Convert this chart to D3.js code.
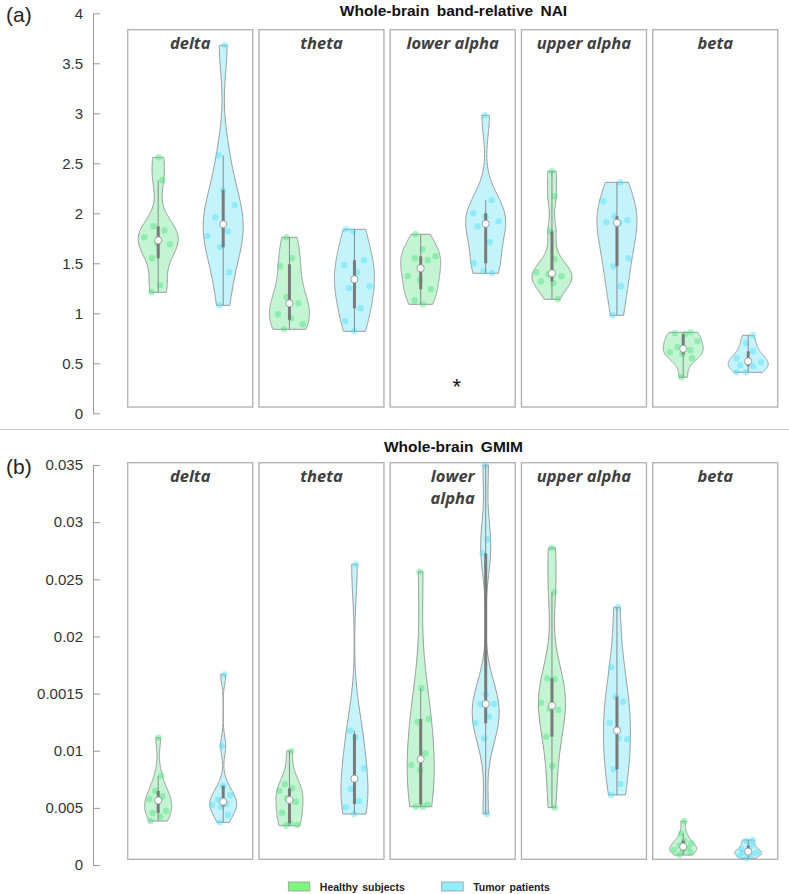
<!DOCTYPE html>
<html>
<head>
<meta charset="utf-8">
<script src="https://cdn.jsdelivr.net/npm/d3@7"></script>
<style>
  body { margin: 0; background: #fff; }
  svg { display: block; }
</style>
</head>
<body>
<div id="chart"></div>
<script>
const bands = ["delta", "theta", "lower alpha", "upper alpha", "beta"];
const groups = ["Healthy subjects", "Tumor patients"];

// Whole-brain band-relative NAI
const naiHealthy = [
  [1.21, 1.28, 1.55, 1.69, 1.70, 1.76, 1.83, 1.87, 2.33, 2.56],
  [0.84, 0.89, 0.95, 0.99, 1.10, 1.16, 1.47, 1.55, 1.76],
  [1.09, 1.13, 1.24, 1.33, 1.37, 1.53, 1.55, 1.57, 1.64, 1.79],
  [1.14, 1.30, 1.32, 1.37, 1.39, 1.41, 1.54, 1.82, 2.17, 2.42],
  [0.36, 0.55, 0.59, 0.61, 0.63, 0.66, 0.72, 0.79, 0.80, 0.81]
];
const naiTumor = [
  [1.08, 1.41, 1.66, 1.77, 1.82, 1.96, 2.08, 2.23, 2.58, 3.68],
  [0.82, 0.92, 1.05, 1.25, 1.27, 1.41, 1.48, 1.53, 1.82, 1.84],
  [1.40, 1.42, 1.50, 1.71, 1.87, 1.92, 1.97, 2.00, 2.13, 2.98],
  [0.98, 1.27, 1.47, 1.55, 1.90, 1.91, 1.93, 1.97, 2.12, 2.31],
  [0.41, 0.41, 0.47, 0.48, 0.51, 0.53, 0.55, 0.62, 0.70, 0.78]
];

// Whole-brain GMIM
const gmimHealthy = [
  [0.00385, 0.00423, 0.00455, 0.00475, 0.00555, 0.00575, 0.00600, 0.00647, 0.00782, 0.01114],
  [0.00344, 0.00350, 0.00365, 0.00458, 0.00554, 0.00584, 0.00650, 0.00671, 0.00706, 0.00998],
  [0.00510, 0.00510, 0.00530, 0.00831, 0.00875, 0.00977, 0.01251, 0.01277, 0.01546, 0.02567],
  [0.00502, 0.00866, 0.01123, 0.01356, 0.01368, 0.01420, 0.01625, 0.01633, 0.02386, 0.02774],
  [0.00087, 0.00110, 0.00122, 0.00131, 0.00150, 0.00170, 0.00190, 0.00213, 0.00277, 0.00385]
];
const gmimTumor = [
  [0.00373, 0.00437, 0.00510, 0.00525, 0.00534, 0.00574, 0.00610, 0.00694, 0.01041, 0.01668],
  [0.00446, 0.00505, 0.00560, 0.00665, 0.00846, 0.01117, 0.01175, 0.02631],
  [0.00446, 0.01108, 0.01240, 0.01298, 0.01406, 0.01412, 0.01493, 0.02727, 0.02850, 0.03500],
  [0.00613, 0.00709, 0.00837, 0.01100, 0.01108, 0.01245, 0.01429, 0.01473, 0.01730, 0.02255],
  [0.00058, 0.00080, 0.00095, 0.00105, 0.00110, 0.00124, 0.00140, 0.00170, 0.00210, 0.00219]
];

const naiTicks = [0, 0.5, 1, 1.5, 2, 2.5, 3, 3.5, 4];
const naiTickLabels = ["0", "0.5", "1", "1.5", "2", "2.5", "3", "3.5", "4"];
const gmimTicks = [0, 0.005, 0.01, 0.015, 0.02, 0.025, 0.03, 0.035];
const gmimTickLabels = ["0", "0.005", "0.01", "0.0015", "0.02", "0.025", "0.03", "0.035"];

const fillColors = ["#4ee37f", "#4fdff6"];
const legendColors = ["#7ef57e", "#92eefc"];

const width = 789, height = 894;
const svg = d3.select("#chart").append("svg")
  .attr("width", width)
  .attr("height", height);

const x = d3.scaleBand().domain(bands).range([127.7, 777.7]).paddingInner(0.0476);
const xg = d3.scalePoint().domain(groups).range([30.5, 95.5]);

// MATLAB-style quantile
function mquant(s, p) {
  const n = s.length;
  const pos = n * p + 0.5;
  if (pos <= 1) return s[0];
  if (pos >= n) return s[n - 1];
  const lo = Math.floor(pos);
  return s[lo - 1] + (pos - lo) * (s[lo] - s[lo - 1]);
}

// gaussian kde with ksdensity-like bandwidth, cut at min/max
function kde(s) {
  const n = s.length;
  const med = d3.median(s);
  let sig = d3.median(s, v => Math.abs(v - med)) / 0.6745;
  if (!(sig > 0)) sig = s[n - 1] - s[0];
  const bw = sig * Math.pow(4 / (3 * n), 0.2);
  const grid = d3.range(121).map(i => s[0] + (s[n - 1] - s[0]) * i / 120);
  return grid.map(y => [y, d3.mean(s, v => Math.exp(-0.5 * ((y - v) / bw) ** 2))]);
}

function drawPanel(cfg) {
  const g = svg.append("g");
  const y = d3.scaleLinear().domain(cfg.domain).range(cfg.range);
  const maxHalf = cfg.maxHalf;

  // panel title
  g.append("text")
    .attr("x", 453.5).attr("y", cfg.titleY)
    .attr("text-anchor", "middle")
    .style("font-family", "Liberation Sans, Arial, sans-serif")
    .style("font-weight", "bold")
    .style("font-size", "15.5px")
    .style("word-spacing", "3px")
    .style("fill", "#111")
    .text(cfg.title);

  g.append("text")
    .attr("x", 6).attr("y", cfg.letterY)
    .style("font-family", "Liberation Sans, Arial, sans-serif")
    .style("font-size", "21px")
    .style("fill", "#222")
    .text(cfg.letter);

  // axis
  const axis = d3.axisRight(y)
    .tickValues(cfg.ticks)
    .tickFormat((d, i) => cfg.tickLabels[i])
    .tickSize(7)
    .tickSizeOuter(0);
  const ax = g.append("g").attr("transform", "translate(93,0)").call(axis);
  ax.select(".domain").attr("stroke", "#999");
  ax.selectAll(".tick line").attr("stroke", "#999");
  ax.selectAll(".tick text")
    .attr("x", -10)
    .attr("text-anchor", "end")
    .style("font-family", "Liberation Sans, Arial, sans-serif")
    .style("font-size", "15px")
    .style("fill", "#333");

  bands.forEach((band, bi) => {
    const px = x(band);
    const pg = g.append("g").attr("transform", `translate(${px},0)`);
    pg.append("rect")
      .attr("x", 0).attr("y", cfg.boxTop)
      .attr("width", x.bandwidth()).attr("height", cfg.boxBottom - cfg.boxTop)
      .attr("fill", "none")
      .attr("stroke", "#b4b4b4")
      .attr("stroke-width", 1.4);

    const lines = cfg.labelLines[bi];
    lines.forEach((ln, li) => {
      pg.append("text")
        .attr("x", x.bandwidth() / 2)
        .attr("y", cfg.labelY + li * 22.5)
        .attr("text-anchor", "middle")
        .style("font-family", "Open Sans, sans-serif")
        .style("font-style", "italic")
        .style("font-weight", "bold")
        .style("font-size", "16.5px")
        .style("fill", "#404040")
        .text(ln);
    });

    [cfg.healthy[bi], cfg.tumor[bi]].forEach((vals, gi) => {
      const s = vals.slice().sort(d3.ascending);
      const cx = xg(groups[gi]);
      const dens = kde(s);
      const dmax = d3.max(dens, d => d[1]);
      const w = v => {
        const i = d3.bisector(d => d[0]).center(dens, v);
        return dens[i][1] / dmax * maxHalf;
      };
      const area = d3.area()
        .y(d => y(d[0]))
        .x0(d => cx - d[1] / dmax * maxHalf)
        .x1(d => cx + d[1] / dmax * maxHalf);
      pg.append("path")
        .datum(dens)
        .attr("d", area)
        .attr("fill", fillColors[gi])
        .attr("fill-opacity", 0.34)
        .attr("stroke", "#9a9a9a")
        .attr("stroke-width", 1);

      // scatter, deterministic spread inside the violin
      pg.selectAll(null)
        .data(vals)
        .join("circle")
        .attr("cx", (v, i) => cx + (((i * 0.618034 + bi * 0.31 + gi * 0.17) % 1) * 2 - 1) * 0.85 * w(v))
        .attr("cy", v => y(v))
        .attr("r", 3.2)
        .attr("fill", fillColors[gi])
        .attr("fill-opacity", 0.45);

      const q1 = mquant(s, 0.25), q3 = mquant(s, 0.75), med = d3.median(s);
      const iqr = q3 - q1;
      const hiLim = q3 + 1.5 * iqr, loLim = q1 - 1.5 * iqr;
      const hi = Math.min(hiLim, d3.max(s.filter(v => v <= hiLim)));
      const lo = Math.max(loLim, d3.min(s.filter(v => v >= loLim)));

      pg.append("line")
        .attr("x1", cx).attr("x2", cx)
        .attr("y1", y(lo)).attr("y2", y(hi))
        .attr("stroke", "#8a8a8a").attr("stroke-width", 1);
      pg.append("line")
        .attr("x1", cx).attr("x2", cx)
        .attr("y1", y(q1)).attr("y2", y(q3))
        .attr("stroke", "#7a7a7a").attr("stroke-width", 3);
      pg.append("circle")
        .attr("cx", cx).attr("cy", y(med))
        .attr("r", 3.6)
        .attr("fill", "#fff")
        .attr("stroke", "#8a8a8a")
        .attr("stroke-width", 0.8);
    });
  });
  return { g, y };
}

const naiPanel = drawPanel({
  title: "Whole-brain band-relative NAI", titleY: 16, letter: "(a)", letterY: 22,
  domain: [0, 4], range: [413.3, 13.3],
  ticks: naiTicks, tickLabels: naiTickLabels,
  boxTop: 29.7, boxBottom: 407, maxHalf: 20,
  labelY: 48.5, labelLines: bands.map(b => [b]),
  healthy: naiHealthy, tumor: naiTumor
});

// significance mark
naiPanel.g.append("text")
  .attr("x", x("lower alpha") + x.bandwidth() / 2 + 4)
  .attr("y", 394)
  .attr("text-anchor", "middle")
  .style("font-family", "Liberation Sans, Arial, sans-serif")
  .style("font-size", "22px")
  .style("fill", "#111")
  .text("*");

// separator
svg.append("line")
  .attr("x1", 0).attr("x2", width)
  .attr("y1", 429.5).attr("y2", 429.5)
  .attr("stroke", "#c8c8c8").attr("stroke-width", 1);

drawPanel({
  title: "Whole-brain GMIM", titleY: 452, letter: "(b)", letterY: 474,
  domain: [0, 0.035], range: [865, 465],
  ticks: gmimTicks, tickLabels: gmimTickLabels,
  boxTop: 462.7, boxBottom: 859.3, maxHalf: 13.5,
  labelY: 481.5, labelLines: [["delta"], ["theta"], ["lower", "alpha"], ["upper alpha"], ["beta"]],
  healthy: gmimHealthy, tumor: gmimTumor
});

// legend
const legX = [288.3, 441.7];
groups.forEach((name, i) => {
  svg.append("rect")
    .attr("x", legX[i]).attr("y", 882)
    .attr("width", 21.5).attr("height", 9)
    .attr("fill", legendColors[i])
    .attr("stroke", "#999").attr("stroke-width", 0.8);
  svg.append("text")
    .attr("x", legX[i] + 31.5).attr("y", 890.5)
    .style("font-family", "Liberation Sans, Arial, sans-serif")
    .style("font-weight", "bold")
    .style("font-size", "10.5px")
    .style("word-spacing", "1.5px")
    .style("fill", "#222")
    .text(name);
});
</script>
</body>
</html>
